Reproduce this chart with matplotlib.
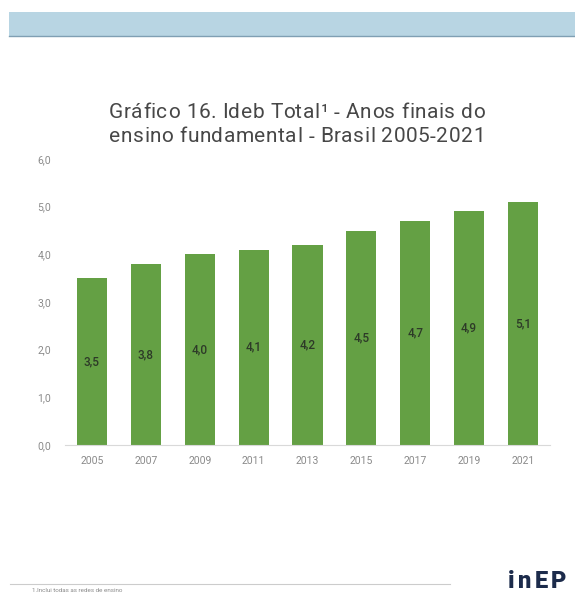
import matplotlib.pyplot as plt
from matplotlib.patches import Rectangle

anos = ['2005', '2007', '2009', '2011', '2013', '2015', '2017', '2019', '2021']
ideb = [3.5, 3.8, 4.0, 4.1, 4.2, 4.5, 4.7, 4.9, 5.1]
yticks = [0, 1, 2, 3, 4, 5, 6]
titulo = ['Gráfico 16. Ideb Total¹ - Anos finais do',
          'ensino fundamental - Brasil 2005-2021']

plt.rcParams['font.family'] = ['Roboto', 'DejaVu Sans']

fig = plt.figure(figsize=(5.75, 5.94), dpi=100)
fig.patch.set_facecolor('white')
W, H = 575.0, 594.0


def spaced_text(s, xc, yc, tracking, **kw):
    # escreve texto com espaçamento entre letras, centrado em (xc, yc) em pixels
    r = fig.canvas.get_renderer()
    widths = []
    for ch in s:
        t = fig.text(0, 0, ch, **kw)
        widths.append(t.get_window_extent(r).width)
        t.remove()
    total = sum(widths) + tracking * (len(s) - 1)
    x = xc - total / 2
    for ch, w in zip(s, widths):
        fig.text(x / W, yc / H, ch, ha='left', va='center', **kw)
        x += w + tracking


# faixa azul do topo
fig.add_artist(Rectangle((9 / W, 1 - 36 / H), 1, 24 / H, transform=fig.transFigure,
                         facecolor='#b8d5e3', edgecolor='none'))
fig.add_artist(plt.Line2D([9 / W, 1], [1 - 35.5 / H] * 2, transform=fig.transFigure,
                          color='#7f9fb3', lw=1))

spaced_text(titulo[0], 297, H - 113, 0.5, fontsize=15, color='#474747')
spaced_text(titulo[1], 297, H - 137, 0.5, fontsize=15, color='#474747')

ax = fig.add_axes([65 / W, 1 - 445 / H, 485 / W, 286 / H])
x = range(len(anos))
ax.bar(x, ideb, width=0.56, color='#64a044')
for xi, v in zip(x, ideb):
    ax.text(xi, v / 2, f'{v:.1f}'.replace('.', ','), ha='center', va='center',
            fontsize=8.5, fontweight='medium', color='#2d3a28')

ax.set_xlim(-0.5, len(anos) - 0.5)
ax.set_ylim(0, 6)
ax.set_xticks(list(x))
ax.set_xticklabels(anos)
ax.set_yticks(yticks)
ax.set_yticklabels([f'{t:.1f}'.replace('.', ',') for t in yticks])
ax.tick_params(length=0, labelsize=7.5, labelcolor='#8a8a8a')
ax.tick_params(axis='y', pad=10)
ax.tick_params(axis='x', pad=8)
for s in ['top', 'right', 'left']:
    ax.spines[s].set_visible(False)
ax.spines['bottom'].set_color('#d9d9d9')
ax.patch.set_alpha(0)

# rodapé
fig.add_artist(plt.Line2D([10 / W, 450 / W], [1 - 584 / H] * 2, transform=fig.transFigure,
                          color='#cccccc', lw=0.8))
fig.text(32 / W, 1 - 590 / H, '1.Inclui todas as redes de ensino', fontsize=4.5,
         color='#8a8a8a', va='center')
spaced_text('inEP', 537, H - 581, 3, fontsize=17, fontweight='black', color='#1c2b4b')

fig.savefig('out.png', dpi=100)
